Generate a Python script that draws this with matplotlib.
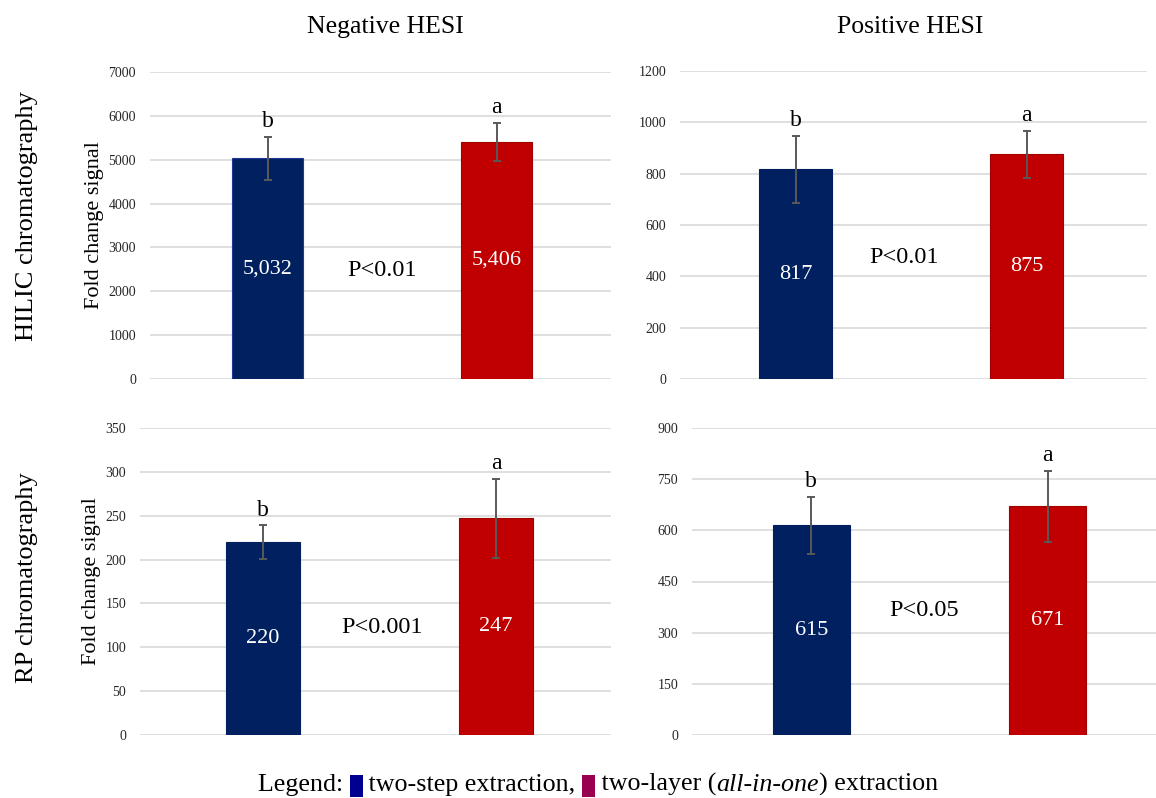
import matplotlib
matplotlib.use("Agg")
import matplotlib.pyplot as plt
from matplotlib.patches import Rectangle

plt.rcParams['font.family'] = ['Liberation Serif', 'DejaVu Serif']

# ---- data ----
groups = ['two-step extraction', 'two-layer (all-in-one) extraction']
letters = ['b', 'a']

hilic_neg_mean = [5032, 5406]
hilic_neg_err = [492, 427]
hilic_pos_mean = [817, 875]
hilic_pos_err = [130, 92]
rp_neg_mean = [220, 247]
rp_neg_err = [19, 45]
rp_pos_mean = [615, 671]
rp_pos_err = [83, 104]

p_labels = ['P<0.01', 'P<0.01', 'P<0.001', 'P<0.05']
y_max = [7000, 1200, 350, 900]
y_step = [1000, 200, 50, 150]
col_titles = ['Negative HESI', 'Positive HESI']
row_titles = ['HILIC chromatography', 'RP chromatography']
value_fmt = ['{:,.0f}', '{:.0f}', '{:.0f}', '{:.0f}']

BLUE = '#002060'
RED = '#C00000'
GRID = '#d9d9d9'
ERR = '#595959'

W, H = 1156, 798
fig = plt.figure(figsize=(W / 100, H / 100), dpi=100)


def rect(l, t, w, h):
    return [l / W, 1 - (t + h) / H, w / W, h / H]


panel_rects = [rect(150, 72, 461, 307), rect(680, 71, 467, 308),
               rect(140, 428, 471, 307), rect(692, 428, 474, 307)]
x_lims = [(-0.515, 1.50), (-0.50, 1.52), (-0.528, 1.494), (-0.505, 1.50)]
p_pos = [(0.50, 0.355), (0.47, 0.393), (0.51, 0.349), (0.475, 0.407)]
means = [hilic_neg_mean, hilic_pos_mean, rp_neg_mean, rp_pos_mean]
errs = [hilic_neg_err, hilic_pos_err, rp_neg_err, rp_pos_err]
bar_w = [0.31, 0.315, 0.32, 0.325]

axes = []
for i in range(4):
    ax = fig.add_axes(panel_rects[i])
    axes.append(ax)
    x = [0, 1]
    ax.bar(x, means[i], width=bar_w[i], color=[BLUE, RED],
           edgecolor=['#1d3a9a' if i == 0 else BLUE, '#a00000'],
           linewidth=0.8, zorder=3)
    ax.errorbar(x, means[i], yerr=errs[i], fmt='none', ecolor=ERR,
                elinewidth=1.4, capsize=3, capthick=1.4, zorder=4)
    for xi, m, e, lab in zip(x, means[i], errs[i], letters):
        ax.annotate(lab, (xi, m + e), xytext=(0, 7), textcoords='offset points',
                    ha='center', va='baseline', fontsize=17, color='black')
        ax.text(xi, m / 2, value_fmt[i].format(m), ha='center', va='center',
                fontsize=16, color='white', zorder=5)
    ax.text(p_pos[i][0], p_pos[i][1] * y_max[i], p_labels[i], ha='center',
            va='center', fontsize=17.5, color='black')
    ax.set_xlim(*x_lims[i])
    ax.set_ylim(0, y_max[i])
    ax.set_yticks(range(0, y_max[i] + 1, y_step[i]))
    ax.set_xticks([])
    ax.grid(axis='y', color=GRID, linewidth=1.2, zorder=0)
    ax.set_axisbelow(True)
    for s in ax.spines.values():
        s.set_visible(False)
    ax.tick_params(axis='y', length=0, labelsize=10, labelcolor='#262626', pad=10)

for ax in (axes[0], axes[2]):
    ax.set_ylabel('Fold change signal', fontsize=16, labelpad=3)

fig.text(385 / W, 1 - 27 / H, col_titles[0], ha='center', va='center', fontsize=18.5)
fig.text(910 / W, 1 - 27 / H, col_titles[1], ha='center', va='center', fontsize=18.5)
fig.text(27 / W, 1 - 216 / H, row_titles[0], ha='center', va='center',
         rotation=90, fontsize=19)
fig.text(27 / W, 1 - 578 / H, row_titles[1], ha='center', va='center',
         rotation=90, fontsize=19)

# legend line built from text runs and coloured squares
renderer = fig.canvas.get_renderer()
runs = [('Legend: ', 'normal', None), ('', None, '#000090'),
        (' two-step extraction, ', 'normal', None), ('', None, '#990050'),
        (' two-layer (', 'normal', None), ('all-in-one', 'italic', None),
        (') extraction', 'normal', None)]
base_y = 1 - 791 / H
sq_w, sq_h = 13, 22
pieces = []
total = 0
for txt, style, col in runs:
    if col is not None:
        pieces.append(('sq', col, sq_w))
        total += sq_w
    else:
        t = fig.text(0, base_y, txt, fontsize=18.7, style=style, va='baseline', ha='left')
        w = t.get_window_extent(renderer).width
        pieces.append(('t', t, w))
        total += w
x0 = 598 - total / 2
for kind, obj, w in pieces:
    if kind == 'sq':
        fig.add_artist(Rectangle((x0 / W, (H - 797) / H), sq_w / W, sq_h / H,
                                 transform=fig.transFigure, facecolor=obj,
                                 edgecolor='none'))
    else:
        obj.set_x(x0 / W)
    x0 += w

fig.savefig('out.png', dpi=100)
